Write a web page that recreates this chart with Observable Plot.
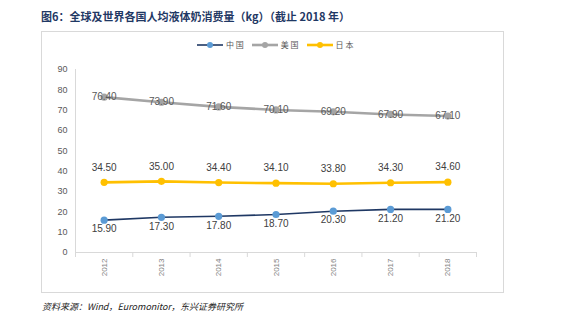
<!DOCTYPE html>
<html><head><meta charset="utf-8">
<script src="https://cdn.jsdelivr.net/npm/d3@7"></script>
<script src="https://cdn.jsdelivr.net/npm/@observablehq/plot@0.6"></script>
<style>
body{margin:0;background:#fff;font-family:"Noto Sans CJK SC","Liberation Sans",sans-serif;}
#wrap{position:relative;width:561px;height:333px;overflow:hidden;}
#title{position:absolute;left:41px;top:8px;font-size:11px;font-weight:bold;color:#1f3864;white-space:nowrap;}
#frame{position:absolute;left:41px;top:31px;width:463px;height:262px;border:1px solid #d9d9d9;box-sizing:border-box;}
#legend{position:absolute;top:39px;left:197px;font-size:8px;color:#595959;display:flex;gap:8px;align-items:center;white-space:nowrap;}
#legend span{display:flex;align-items:center;gap:3px;}
#foot{position:absolute;left:42px;top:300px;font-size:9px;font-style:italic;color:#222;white-space:nowrap;}
#chart{position:absolute;left:0;top:0;}
</style></head>
<body>
<div id="wrap">
<div id="title">图6：全球及世界各国人均液体奶消费量（kg）（截止 2018 年）</div>
<div id="frame"></div>
<div id="chart"></div>
<div id="legend"></div>
<div id="foot">资料来源：Wind，Euromonitor，东兴证券研究所</div>
</div>
<script>
const years = [2012, 2013, 2014, 2015, 2016, 2017, 2018];
const china = [15.9, 17.3, 17.8, 18.7, 20.3, 21.2, 21.2];
const usa = [76.4, 73.9, 71.6, 70.1, 69.2, 67.9, 67.1];
const japan = [34.5, 35.0, 34.4, 34.1, 33.8, 34.3, 34.6];
const seriesNames = ["中国", "美国", "日本"];
const yTicks = [0, 10, 20, 30, 40, 50, 60, 70, 80, 90];

const styles = {
  "中国": {line: "#1f3864", dot: "#5b9bd5", w: 1.6, dy: 9},
  "美国": {line: "#a5a5a5", dot: "#a5a5a5", w: 2.6, dy: 0},
  "日本": {line: "#ffc000", dot: "#ffc000", w: 2.6, dy: -15}
};
const vals = {"中国": china, "美国": usa, "日本": japan};

const rows = [];
for (const s of seriesNames) years.forEach((yr, i) => rows.push({s, year: yr, v: vals[s][i]}));

const bounds = years.map(y => y - 0.5).concat([years[years.length - 1] + 0.5]);
const marks = [];
marks.push(Plot.ruleX([bounds[0]], {y1: 0, y2: 90, stroke: "#d9d9d9"}));
marks.push(Plot.ruleY([0], {stroke: "#d9d9d9"}));
marks.push(Plot.axisY({ticks: yTicks, tickSize: 0, tickPadding: 8, fontSize: 9, color: "#595959", label: null, tickFormat: d => d}));
marks.push(Plot.axisX({ticks: bounds, tickSize: 5, stroke: "#d9d9d9", tickFormat: () => "", label: null}));
marks.push(Plot.axisX({ticks: years, tickSize: 0, tickRotate: -90, tickPadding: 6, fontSize: 8, color: "#7f7f7f", tickFormat: d => String(d), label: null}));
for (const s of seriesNames) {
  const st = styles[s];
  const d = rows.filter(r => r.s === s);
  marks.push(Plot.line(d, {x: "year", y: "v", stroke: st.line, strokeWidth: st.w}));
  marks.push(Plot.dot(d, {x: "year", y: "v", fill: st.dot, r: 3.6, stroke: "none"}));
}
for (const s of seriesNames) {
  const st = styles[s];
  const d = rows.filter(r => r.s === s);
  marks.push(Plot.text(d, {x: "year", y: "v", text: r => r.v.toFixed(2), dy: st.dy, fontSize: 10, fill: s === "美国" ? "#595959" : "#404040"}));
}

const chart = Plot.plot({
  width: 561, height: 333,
  marginLeft: 75, marginRight: 85, marginTop: 69, marginBottom: 81,
  x: {type: "linear", domain: [bounds[0], bounds[bounds.length - 1]], axis: null},
  y: {domain: [0, 90], axis: null},
  style: {background: "transparent", fontFamily: "Liberation Sans, Arial, sans-serif", overflow: "visible"},
  marks
});
document.getElementById("chart").appendChild(chart);

const legend = document.getElementById("legend");
for (const s of seriesNames) {
  const st = styles[s];
  const sp = document.createElement("span");
  sp.innerHTML = `<svg width="26" height="8"><line x1="0" y1="4" x2="26" y2="4" stroke="${st.line}" stroke-width="${st.w}"/><circle cx="13" cy="4" r="3" fill="${st.dot}"/></svg>${s.split("").join(" ")}`;
  legend.appendChild(sp);
}
</script>
</body></html>
